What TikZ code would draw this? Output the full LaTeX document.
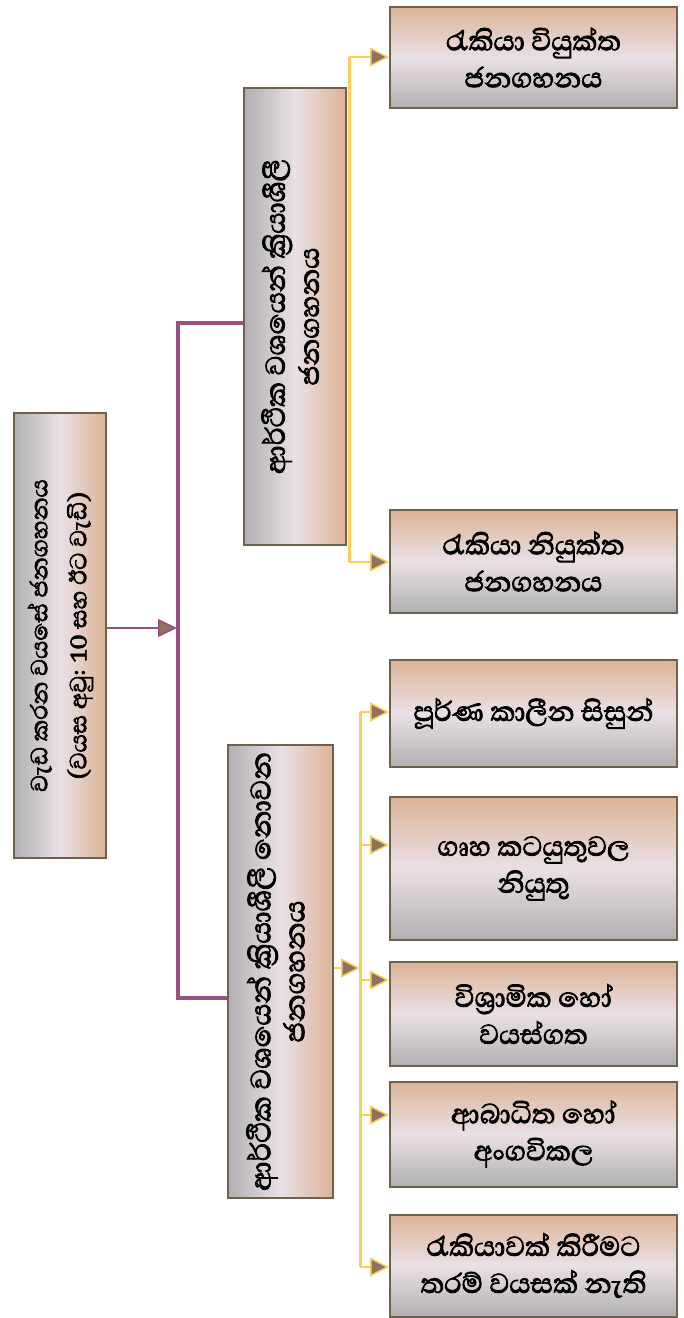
\documentclass[tikz,border=0pt]{standalone}
\usepackage{fontspec}
\newfontfamily\sinhalafont[Script=Sinhala, FakeBold=2.4]{Abhaya Libre}
\usetikzlibrary{arrows.meta}
\definecolor{bgray}{RGB}{176,176,178}
\definecolor{blight}{RGB}{234,224,230}
\definecolor{btan}{RGB}{220,180,150}
\definecolor{bedge}{RGB}{110,98,78}
\definecolor{purp}{RGB}{152,80,128}
\definecolor{yel}{RGB}{250,206,92}
\definecolor{afill}{RGB}{140,116,96}
\tikzset{
  vbox/.style={draw=bedge, line width=2pt, left color=bgray, right color=btan, middle color=blight,
    inner sep=0pt, font=\sinhalafont\fontsize{35}{34}\selectfont},
  hbox/.style={draw=bedge, line width=2pt, top color=btan, bottom color=bgray, middle color=blight,
    inner sep=0pt, align=center, minimum width=287pt, font=\sinhalafont\fontsize{35}{37}\selectfont},
  pline/.style={draw=purp, line width=3.5pt},
  yline/.style={draw=yel, line width=3pt},
  parr/.style={draw=purp, line width=2pt, -{Triangle[length=19pt,width=18pt,fill=afill,line width=1.5pt]}},
  yarr/.style={draw=yel, line width=2.5pt, -{Triangle[length=19pt,width=19pt,fill=afill,line width=1.5pt]}},
}
\newcommand{\vtext}[3]{\rotatebox{90}{\begin{tabular}{@{}c@{}}#1\\[#3]#2\end{tabular}}}
\begin{document}
\begin{tikzpicture}[x=1pt,y=-1pt]
\useasboundingbox (0,0) rectangle (684,1318);
% boxes
\node[vbox, minimum width=92pt, minimum height=445pt, font=\sinhalafont\fontsize{30}{34}\selectfont] (root) at (60,635.5)
  {\vtext{වැඩ කරන වයසේ ජනගහනය}{(වයස අවු: 10 සහ ඊට වැඩි)}{5pt}};
\node[vbox, minimum width=102pt, minimum height=457pt] (mt) at (295,316.5)
  {\vtext{ආර්ථික වශයෙන් ක්‍රියාශීලී}{ජනගහනය}{0pt}};
\node[vbox, minimum width=105pt, minimum height=453pt, font=\sinhalafont\fontsize{36}{34}\selectfont] (mb) at (280.5,971.5)
  {\vtext{ආර්ථික වශයෙන් ක්‍රියාශීලී නොවන}{ජනගහනය}{0pt}};
\node[hbox, minimum height=101pt] (b1) at (533.5,57.5) {රැකියා වියුක්ත\\ජනගහනය};
\node[hbox, minimum height=103pt] (b2) at (533.5,561.5) {රැකියා නියුක්ත\\ජනගහනය};
\node[hbox, minimum height=107pt] (b3) at (533.5,713.5) {පූර්ණ කාලීන සිසුන්};
\node[hbox, minimum height=143pt] (b4) at (533.5,868.5) {ගෘහ කටයුතුවල\\නියුතු};
\node[hbox, minimum height=104pt] (b5) at (533.5,1014) {විශ්‍රාමික හෝ\\වයස්ගත};
\node[hbox, minimum height=105pt] (b6) at (533.5,1134) {ආබාධිත හෝ\\අංගවිකල};
\node[hbox, minimum height=102pt] (b7) at (533.5,1265.5) {රැකියාවක් කිරීමට\\තරම් වයසක් නැති};
% purple connectors
\coordinate (pt) at (178,323);
\coordinate (rb) at (178,628);
\coordinate (pm) at (178,998);
\draw[pline] (pt -| mt.west) -- (pt) -- (pm) -- (pm -| mb.west);
\draw[parr] (root.east |- rb) -- ([xshift=-1pt]rb);
% yellow top
\coordinate (y1) at (349,57);
\coordinate (y2) at (349,562);
\draw[yline] (y1) -- (y2);
\draw[yarr] (y1) -- (y1 -| b1.west);
\draw[yarr] (y2) -- (y2 -| b2.west);
% yellow bottom
\coordinate (z3) at (360,712);
\coordinate (z4) at (360,845);
\coordinate (z5) at (360,980);
\coordinate (z6) at (360,1115);
\coordinate (z7) at (360,1267);
\coordinate (zm) at (360,968);
\draw[yline] (z3) -- (z7);
\draw[yarr] (mb.east |- zm) -- (zm);
\draw[yarr] (z3) -- (z3 -| b3.west);
\draw[yarr] (z4) -- (z4 -| b4.west);
\draw[yarr] (z5) -- (z5 -| b5.west);
\draw[yarr] (z6) -- (z6 -| b6.west);
\draw[yarr] (z7) -- (z7 -| b7.west);
\end{tikzpicture}
\end{document}
